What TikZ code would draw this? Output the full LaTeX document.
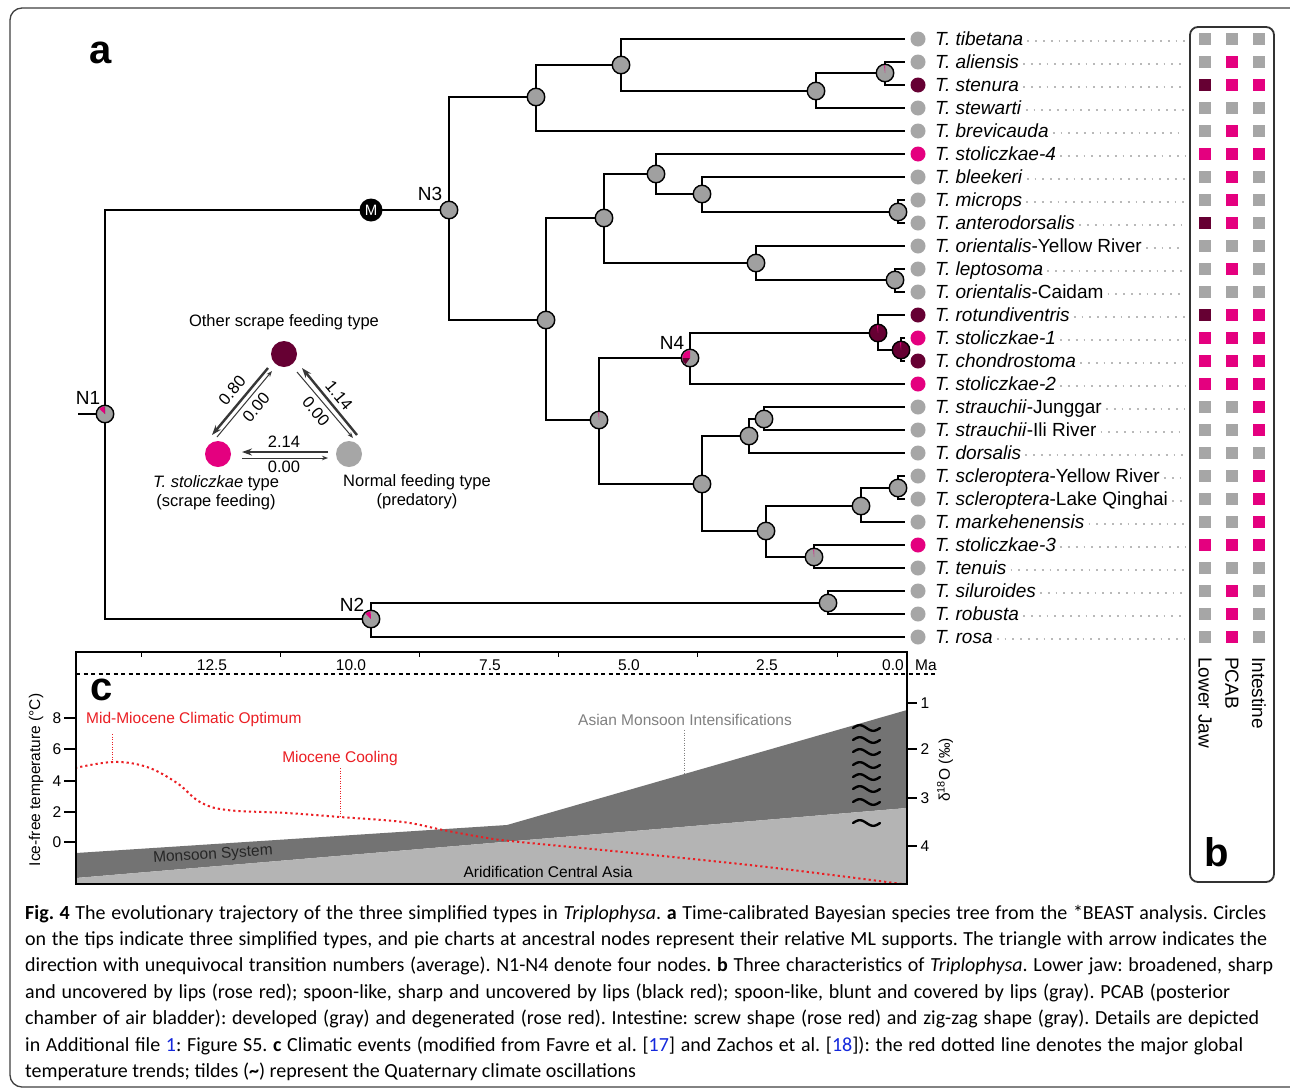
\documentclass[tikz,border=0pt]{standalone}
\usepackage{fontspec}
\setmainfont{Liberation Sans}
\newfontfamily\capfont{Carlito}
\usetikzlibrary{calc,arrows.meta}
\definecolor{pk}{RGB}{228,0,127}
\definecolor{dr}{RGB}{102,0,51}
\definecolor{gy}{RGB}{166,166,166}
\definecolor{ng}{RGB}{160,160,160}
\definecolor{mg}{RGB}{115,115,115}
\definecolor{lg}{RGB}{180,180,180}
\definecolor{rd}{RGB}{235,30,35}
\definecolor{lk}{RGB}{20,40,220}
\definecolor{dk}{RGB}{55,55,55}
\newcommand\myslice[4]{\fill[#2] (#1.center) -- ++(#3:7.6) arc[start angle=#3, end angle=#4, radius=7.6] -- cycle;}
\newcommand\mytilde[1]{\draw[line width=2.4pt, line cap=round] plot[domain=0:27, samples=25, smooth] ({853+\x},{#1-2.8*sin(\x/27*360)});}
\tikzset{
 inode/.style={circle, draw=black, line width=1.4pt, fill=ng, minimum size=17.5pt, inner sep=0pt},
 leaf/.style={circle, fill=#1, minimum size=15pt, inner sep=0pt, outer sep=6pt},
 lab/.style={anchor=base west, inner sep=0pt, font=\fontsize{19}{22}\selectfont},
 nlab/.style={inner sep=0pt, font=\fontsize{19}{22}\selectfont},
 br/.style={line width=2.4pt, black},
 sq/.style={fill=#1, minimum size=12pt, inner sep=0pt},
 lead/.style={draw=gray!55, line width=1.8pt, dash pattern=on 1.8pt off 6pt},
 thk/.style={draw=dk, line width=2.4pt, -{Stealth[length=10pt,width=7pt]}},
 thn/.style={draw=dk, line width=1pt, -{Stealth[length=6pt,width=4.5pt]}},
 tri/.style={inner sep=0pt, font=\fontsize{16.5}{19}\selectfont},
 ctext/.style={inner sep=0pt, font=\fontsize{15.5}{18}\selectfont},
 panel/.style={inner sep=0pt, font=\bfseries\fontsize{40}{40}\selectfont},
 capl/.style={anchor=base west, inner sep=0pt, font=\capfont\fontsize{20}{24}\selectfont},
}
\begin{document}
\frenchspacing
\begin{tikzpicture}[x=1pt,y=-1pt]
\useasboundingbox (0,0) rectangle (1290,1090);
\fill[white] (0,0) rectangle (1290,1090);
\draw[line width=1.3pt, draw=black!75, rounded corners=12pt] (10,8) rectangle (1320,1087);
\node[panel] (pa) at (101,53) {a};

% leaves, labels, squares
\foreach \i/\nm/\cc/\qa/\qb/\qc in {
 1/{\textit{T. tibetana}}/gy/gy/gy/gy,
 2/{\textit{T. aliensis}}/gy/gy/pk/gy,
 3/{\textit{T. stenura}}/dr/dr/pk/pk,
 4/{\textit{T. stewarti}}/gy/gy/gy/gy,
 5/{\textit{T. brevicauda}}/gy/gy/pk/gy,
 6/{\textit{T. stoliczkae-4}}/pk/pk/pk/pk,
 7/{\textit{T. bleekeri}}/gy/gy/pk/gy,
 8/{\textit{T. microps}}/gy/gy/pk/gy,
 9/{\textit{T. anterodorsalis}}/gy/dr/pk/gy,
 10/{\textit{T. orientalis}-Yellow River}/gy/gy/gy/gy,
 11/{\textit{T. leptosoma}}/gy/gy/pk/gy,
 12/{\textit{T. orientalis}-Caidam}/gy/gy/gy/gy,
 13/{\textit{T. rotundiventris}}/dr/dr/pk/pk,
 14/{\textit{T. stoliczkae-1}}/pk/pk/pk/pk,
 15/{\textit{T. chondrostoma}}/dr/pk/pk/pk,
 16/{\textit{T. stoliczkae-2}}/pk/pk/pk/pk,
 17/{\textit{T. strauchii}-Junggar}/gy/gy/gy/pk,
 18/{\textit{T. strauchii}-Ili River}/gy/gy/gy/pk,
 19/{\textit{T. dorsalis}}/gy/gy/gy/gy,
 20/{\textit{T. scleroptera}-Yellow River}/gy/gy/gy/pk,
 21/{\textit{T. scleroptera}-Lake Qinghai}/gy/gy/gy/pk,
 22/{\textit{T. markehenensis}}/gy/gy/gy/pk,
 23/{\textit{T. stoliczkae-3}}/pk/pk/pk/pk,
 24/{\textit{T. tenuis}}/gy/gy/gy/gy,
 25/{\textit{T. siluroides}}/gy/gy/pk/gy,
 26/{\textit{T. robusta}}/gy/gy/pk/gy,
 27/{\textit{T. rosa}}/gy/gy/pk/gy}{
 \pgfmathsetmacro\yy{39+23*(\i-1)}
 \node[leaf=\cc] (c\i) at (918,\yy) {};
 \node[lab] (l\i) at (935,\yy+6.8) {\nm};
 \draw[lead] ([xshift=4pt]l\i.base east) ++(0,-4.8) -- (1185,\yy+2);
 \node[sq=\qa] (sa\i) at (1205,\yy) {};
 \node[sq=\qb] (sb\i) at (1232,\yy) {};
 \node[sq=\qc] (sc\i) at (1259,\yy) {};
}

% internal nodes
\node[inode] (N1) at (105,414) {};
\node[inode] (N3) at (449,210) {};
\node[inode] (N2) at (371,619) {};
\node[inode] (A) at (536,97) {};
\node[inode] (B) at (621,65) {};
\node[inode] (C) at (816,91) {};
\node[inode] (D) at (885,73) {};
\node[inode] (E) at (546,320) {};
\node[inode] (F) at (604,218) {};
\node[inode] (G) at (656,174) {};
\node[inode] (H) at (702,194) {};
\node[inode] (I) at (898,212) {};
\node[inode] (J) at (756,263) {};
\node[inode] (K) at (895,280) {};
\node[inode] (P) at (599,420) {};
\node[inode] (N4) at (690,358) {};
\node[inode, fill=dr] (Q) at (878,333) {};
\node[inode, fill=dr] (R) at (901,350) {};
\node[inode] (S) at (702,484) {};
\node[inode] (T) at (749,436) {};
\node[inode] (V) at (764,419) {};
\node[inode] (U) at (766,531) {};
\node[inode] (W) at (861,506) {};
\node[inode] (Y) at (898,488) {};
\node[inode] (X) at (814,557) {};
\node[inode] (Z) at (828,603) {};
\coordinate (root) at (78,414);

% edges
\draw[br] (root) -- (N1);
\foreach \p/\c in {N1/N3, N1/N2, N3/A, N3/E, A/B, A/c5, B/c1, B/C, C/D, C/c4, D/c2, D/c3,
 E/F, E/P, F/G, F/J, G/c6, G/H, H/c7, H/I, I/c8, I/c9, J/c10, J/K, K/c11, K/c12,
 P/N4, P/S, N4/Q, N4/c16, Q/c13, Q/R, R/c14, R/c15, S/T, S/U, T/V, T/c19, V/c17, V/c18,
 U/W, U/X, W/Y, W/c22, Y/c20, Y/c21, X/c23, X/c24, N2/Z, N2/c27, Z/c25, Z/c26}
 {\draw[br] (\p) |- (\c);}

% pies
\myslice{N1}{pk}{222}{267}
\myslice{N1}{dr}{267}{270}
\myslice{N2}{pk}{225}{267}
\myslice{N4}{pk}{180}{270}
\myslice{N4}{dr}{125}{180}
\myslice{P}{pk}{265}{271}
\myslice{X}{pk}{265}{271}
\myslice{D}{pk}{264}{271}
\myslice{Q}{pk}{262}{272}
\myslice{R}{pk}{262}{272}

\node[circle, fill=black, minimum size=23pt, inner sep=0pt, text=white, font=\fontsize{15}{15}\selectfont] (M) at (371,210) {M};
\node[nlab] (tN1) at (88,398) {N1};
\node[nlab] (tN3) at (430,194) {N3};
\node[nlab] (tN2) at (352,605) {N2};
\node[nlab] (tN4) at (672,343) {N4};

% triangle inset
\node[tri] (tOther) at (284,322) {Other scrape feeding type};
\node[circle, fill=dr, minimum size=26pt, inner sep=0pt] (kD) at (284,354) {};
\node[circle, fill=pk, minimum size=26pt, inner sep=0pt] (kP) at (218,454) {};
\node[circle, fill=gy, minimum size=26pt, inner sep=0pt] (kG) at (349,454) {};
\node[tri, align=center] (tP) at (216,493) {\textit{T. stoliczkae} type\\(scrape feeding)};
\node[tri, align=center] (tG) at (417,492) {Normal feeding type\\(predatory)};
\coordinate (a1s) at (268,368); \coordinate (a1e) at (212,435);
\coordinate (a2s) at (217,437); \coordinate (a2e) at (272,371);
\coordinate (a3s) at (357,435); \coordinate (a3e) at (302,368);
\coordinate (a4s) at (297,372); \coordinate (a4e) at (353,438);
\coordinate (a5s) at (328,452); \coordinate (a5e) at (242,452);
\coordinate (a6s) at (242,458); \coordinate (a6e) at (328,458);
\draw[thk] (a1s) -- (a1e);
\draw[thn] (a2s) -- (a2e);
\draw[thk] (a3s) -- (a3e);
\draw[thn] (a4s) -- (a4e);
\draw[thk] (a5s) -- (a5e);
\draw[thn] (a6s) -- (a6e);
\node[tri, rotate=50] (r1) at (232,390.5) {0.80};
\node[tri, rotate=50] (r2) at (256,407.5) {0.00};
\node[tri, rotate=-50] (r3) at (339,395.5) {1.14};
\node[tri, rotate=-50] (r4) at (316,411.5) {0.00};
\node[tri] (r5) at (284,442) {2.14};
\node[tri] (r6) at (284,467) {0.00};

% panel b
\draw[line width=1.8pt, draw=black!80, rounded corners=8pt] (1190,27) rectangle (1274,882);
\node[nlab, rotate=-90, anchor=west] (bLJ) at (1205,657) {Lower Jaw};
\node[nlab, rotate=-90, anchor=west] (bPC) at (1232,657) {PCAB};
\node[nlab, rotate=-90, anchor=west] (bIN) at (1259,657) {Intestine};
\node[panel] (pb) at (1217,852) {b};

% panel c
\begin{scope}
\clip (76,652) rectangle (907,884);
\fill[mg] (76,853) -- (507,825) -- (907,710) -- (907,808) -- (76,878) -- cycle;
\fill[lg] (76,878) -- (907,808) -- (907,884) -- (76,884) -- cycle;
\draw[rd, line width=2pt, dash pattern=on 2.2pt off 3pt] plot[smooth, tension=0.6] coordinates {(70,769) (113,762) (147,767) (177,783) (200,802) (227,810) (287,813) (340,817) (403,822) (443,830) (487,838) (520,842) (633,853) (767,867) (910,885)};
\end{scope}
\draw[line width=2pt] (76,652) rectangle (907,884);
\draw[line width=1.5pt, dash pattern=on 4pt off 3.5pt] (76,674) -- (937,674);
\foreach \xx in {141,280,419,558,697,837} {\draw[line width=1pt] (\xx,652) -- (\xx,657);}
\node[ctext] (x1) at (212,665) {12.5};
\node[ctext] (x2) at (351,665) {10.0};
\node[ctext] (x3) at (490,665) {7.5};
\node[ctext] (x4) at (629,665) {5.0};
\node[ctext] (x5) at (767,665) {2.5};
\node[ctext] (x6) at (893,665) {0.0};
\node[ctext] (xMa) at (926,665) {Ma};
\foreach \v/\yy in {8/718,6/749,4/781,2/812,0/842} {
 \draw[line width=1.3pt] (64,\yy) -- (76,\yy);
 \node[ctext] at (57,\yy) {\v};
}
\foreach \v/\yy in {1/703,2/749,3/798,4/846} {
 \draw[line width=1.3pt] (907,\yy) -- (917,\yy);
 \node[ctext] at (925,\yy) {\v};
}
\node[ctext, rotate=90] (yl) at (36,780) {Ice-free temperature (°C)};
\node[ctext, rotate=90] (yr) at (945,770) {δ\textsuperscript{18}O (‰)};
\node[panel] (pc) at (102,690) {c};
\node[ctext, text=rd, anchor=west] (mmco) at (86,719) {Mid-Miocene Climatic Optimum};
\node[ctext, text=rd] (mc) at (340,758) {Miocene Cooling};
\node[ctext, text=gray] (ami) at (685,720) {Asian Monsoon Intensifications};
\draw[rd, line width=1pt, dash pattern=on 1pt off 1.5pt] (112,734) -- (112,762);
\draw[rd, line width=1pt, dash pattern=on 1pt off 1.5pt] (340,768) -- (340,816);
\draw[gray, line width=1pt, dash pattern=on 1pt off 1.5pt] (684,730) -- (684,773);
\node[ctext, text=black!85, rotate=3.7] (ms) at (213,855) {Monsoon System};
\node[ctext] (ar) at (548,872) {Aridification Central Asia};
\foreach \ty in {728,740,752,765,777,789,802,823} {\mytilde{\ty}}

% caption
\node[capl] (cap1) at (25,919) {\makebox[1241pt][s]{\textbf{Fig. 4} The evolutionary trajectory of the three simplified types in \textit{Triplophysa}. \textbf{a} Time-calibrated Bayesian species tree from the *BEAST analysis. Circles}};
\node[capl] (cap2) at (25,945.4) {\makebox[1242pt][s]{on the tips indicate three simplified types, and pie charts at ancestral nodes represent their relative ML supports. The triangle with arrow indicates the}};
\node[capl] (cap3) at (25,971.8) {\makebox[1248pt][s]{direction with unequivocal transition numbers (average). N1-N4 denote four nodes. \textbf{b} Three characteristics of \textit{Triplophysa}. Lower jaw: broadened, sharp}};
\node[capl] (cap4) at (25,998.2) {\makebox[1205pt][s]{and uncovered by lips (rose red); spoon-like, sharp and uncovered by lips (black red); spoon-like, blunt and covered by lips (gray). PCAB (posterior}};
\node[capl] (cap5) at (25,1024.6) {\makebox[1234pt][s]{chamber of air bladder): developed (gray) and degenerated (rose red). Intestine: screw shape (rose red) and zig-zag shape (gray). Details are depicted}};
\node[capl] (cap6) at (25,1051) {\makebox[1218pt][s]{in Additional file \textcolor{lk}{1}: Figure S5. \textbf{c} Climatic events (modified from Favre et al. [\textcolor{lk}{17}] and Zachos et al. [\textcolor{lk}{18}]): the red dotted line denotes the major global}};
\node[capl] (cap7) at (25,1077.4) {temperature trends; tildes (\textbf{\char"7E}) represent the Quaternary climate oscillations};
\end{tikzpicture}
\end{document}
